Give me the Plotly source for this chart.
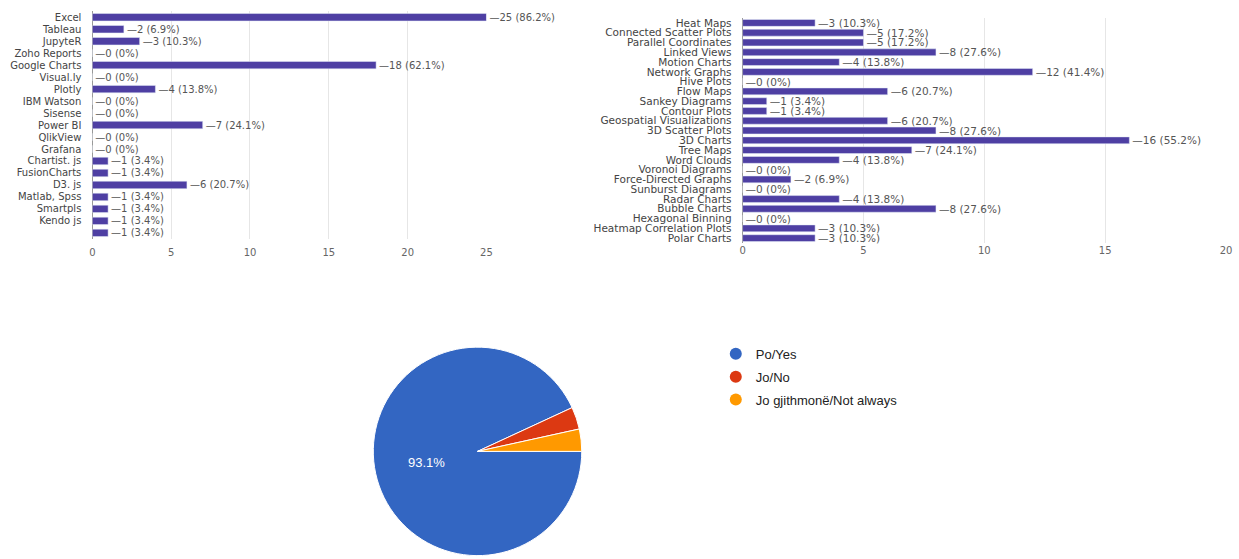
import plotly.graph_objects as go

# ---------------- data ----------------
tools = ["Excel", "Tableau", "JupyteR", "Zoho Reports", "Google Charts", "Visual.ly",
         "Plotly", "IBM Watson", "Sisense", "Power BI", "QlikView", "Grafana",
         "Chartist. js", "FusionCharts", "D3. js", "Matlab, Spss", "Smartpls",
         "Kendo js", ""]
tool_counts = [25, 2, 3, 0, 18, 0, 4, 0, 0, 7, 0, 0, 1, 1, 6, 1, 1, 1, 1]
tool_pcts = ["86.2%", "6.9%", "10.3%", "0%", "62.1%", "0%", "13.8%", "0%", "0%",
             "24.1%", "0%", "0%", "3.4%", "3.4%", "20.7%", "3.4%", "3.4%", "3.4%", "3.4%"]

charts = ["Heat Maps", "Connected Scatter Plots", "Parallel Coordinates", "Linked Views",
          "Motion Charts", "Network Graphs", "Hive Plots", "Flow Maps", "Sankey Diagrams",
          "Contour Plots", "Geospatial Visualizations", "3D Scatter Plots", "3D Charts",
          "Tree Maps", "Word Clouds", "Voronoi Diagrams", "Force-Directed Graphs",
          "Sunburst Diagrams", "Radar Charts", "Bubble Charts", "Hexagonal Binning",
          "Heatmap Correlation Plots", "Polar Charts"]
chart_counts = [3, 5, 5, 8, 4, 12, 0, 6, 1, 1, 6, 8, 16, 7, 4, 0, 2, 0, 4, 8, 0, 3, 3]
chart_pcts = ["10.3%", "17.2%", "17.2%", "27.6%", "13.8%", "41.4%", "0%", "20.7%", "3.4%",
              "3.4%", "20.7%", "27.6%", "55.2%", "24.1%", "13.8%", "0%", "6.9%", "0%",
              "13.8%", "27.6%", "0%", "10.3%", "10.3%"]

pie_labels = ["Po/Yes", "Jo/No", "Jo gjithmonë/Not always"]
pie_values = [27, 1, 1]
pie_text = ["93.1%", "", ""]
pie_colors = ["#3366c2", "#dc3912", "#ff9900"]

left_ticks = [0, 5, 10, 15, 20, 25]
right_ticks = [0, 5, 10, 15, 20]

BAR = "#4e3fa3"
FONT = "DejaVu Sans, Arial, sans-serif"

fig = go.Figure()

left_pos = list(range(len(tools)))
fig.add_trace(go.Bar(
    x=tool_counts, y=left_pos, orientation="h", marker_color=BAR, width=0.62,
    text=[f"—{c} ({p})" for c, p in zip(tool_counts, tool_pcts)],
    textposition="outside", cliponaxis=False, constraintext="none",
    textfont=dict(family=FONT, size=10, color="#555555"),
    showlegend=False, xaxis="x", yaxis="y", hoverinfo="skip"))

right_pos = list(range(len(charts)))
fig.add_trace(go.Bar(
    x=chart_counts, y=right_pos, orientation="h", marker_color=BAR, width=0.7,
    text=[f"—{c} ({p})" for c, p in zip(chart_counts, chart_pcts)],
    textposition="outside", cliponaxis=False, constraintext="none",
    textfont=dict(family=FONT, size=10.5, color="#555555"),
    showlegend=False, xaxis="x2", yaxis="y2", hoverinfo="skip"))

fig.add_trace(go.Pie(
    labels=pie_labels, values=pie_values, text=pie_text, textinfo="text",
    textposition="inside", insidetextorientation="horizontal",
    textfont=dict(family="Liberation Sans, Arial, sans-serif", size=13, color="white"),
    marker=dict(colors=pie_colors, line=dict(color="white", width=1)),
    sort=False, direction="clockwise", rotation=90, showlegend=False,
    domain=dict(x=[373 / 1239, 583 / 1239], y=[0, 1 - 345 / 559]), hoverinfo="skip"))

for i, (lab, col) in enumerate(zip(pie_labels, pie_colors)):
    fig.add_trace(go.Scatter(
        x=[None], y=[None], mode="markers", name=lab,
        marker=dict(symbol="circle", size=12, color=col),
        legendgroup=str(i), xaxis="x", yaxis="y"))

grid = "#e6e6e6"
fig.update_layout(
    width=1239, height=559, margin=dict(l=0, r=0, t=0, b=0),
    paper_bgcolor="white", plot_bgcolor="white",
    xaxis=dict(domain=[90 / 1239, 487 / 1239], range=[0, 25], tickvals=left_ticks,
               showgrid=True, gridcolor=grid, zeroline=True, zerolinecolor="#999999",
               zerolinewidth=1, tickfont=dict(family=FONT, size=10, color="#666666"),
               ticklabelstandoff=6, fixedrange=True),
    yaxis=dict(domain=[1 - 238.7 / 559, 1 - 10.3 / 559], range=[len(tools) - 0.5, -0.5],
               tickvals=left_pos, ticktext=tools, showgrid=False, zeroline=False,
               tickfont=dict(family=FONT, size=10, color="#444444"),
               ticklabelstandoff=10, fixedrange=True),
    xaxis2=dict(domain=[745 / 1239, 1232 / 1239], range=[0, 20], tickvals=right_ticks,
                anchor="y2", showgrid=True, gridcolor=grid, zeroline=True,
                zerolinecolor="#999999", zerolinewidth=1,
                tickfont=dict(family=FONT, size=10, color="#666666"),
                ticklabelstandoff=0, fixedrange=True),
    yaxis2=dict(domain=[1 - 242.9 / 559, 1 - 17.1 / 559], range=[len(charts) - 0.5, -0.5],
                anchor="x2", tickvals=right_pos, ticktext=charts, showgrid=False,
                zeroline=False, tickfont=dict(family=FONT, size=10.5, color="#444444"),
                ticklabelstandoff=10, fixedrange=True),
    legend=dict(x=718 / 1239, y=1 - 339 / 559, xanchor="left", yanchor="top",
                font=dict(family="Liberation Sans, Arial, sans-serif", size=13, color="#222222"),
                traceorder="grouped", tracegroupgap=3, itemwidth=30,
                bgcolor="rgba(0,0,0,0)"),
)

fig.write_html("out.html")
